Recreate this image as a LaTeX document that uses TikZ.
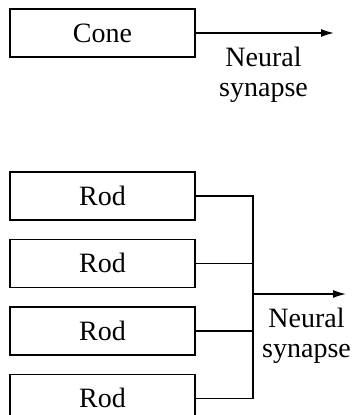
\documentclass[tikz,border=0pt]{standalone}
\usepackage{fontspec}
\setmainfont{Liberation Serif}
\usetikzlibrary{positioning, arrows.meta}
\tikzset{
	cell/.style={draw, minimum width=185pt, minimum height=48pt, inner sep=0pt},
	lab/.style={align=center, inner sep=2pt, anchor=north},
}

\begin{document}
\begin{tikzpicture}[x=1pt, y=-1pt, line width=1.4pt, >={Latex[length=13pt, width=8pt]}, font=\fontsize{28}{30}\selectfont]
	\useasboundingbox (0,0) rectangle (351,415);
	% single cone
	\node[cell] (cone) at (102.5,33) {Cone};
	\coordinate (cone_out) at (334,33);
	\draw[->] (cone) -- (cone_out);
	\node[lab] (syn1) at (263.5,44.5) {Neural\\synapse};
	% rods on one synapse
	\node[cell] (rod1) at (102.5,196) {Rod};
	\node[cell, below=18pt of rod1] (rod2) {Rod};
	\node[cell, below=18pt of rod2] (rod3) {Rod};
	\node[cell, below=18pt of rod3] (rod4) {Rod};
	\coordinate (bus) at (253,294);
	\coordinate (rod_out) at (346,294);
	\draw (rod1) -| (bus);
	\draw (rod2) -| (bus);
	\draw (rod3) -| (bus);
	\draw (rod4) -| (bus);
	\draw[->] (bus) -- (rod_out);
	\node[lab] (syn2) at (306.5,305.5) {Neural\\synapse};
\end{tikzpicture}
\end{document}
